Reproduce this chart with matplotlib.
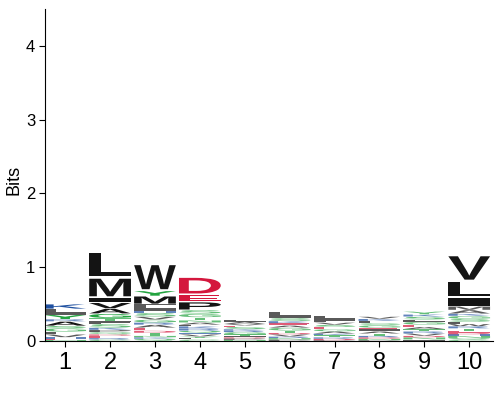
import matplotlib
matplotlib.use("Agg")
import matplotlib.pyplot as plt
from matplotlib.textpath import TextPath
from matplotlib.patches import PathPatch
from matplotlib.font_manager import FontProperties
import matplotlib.transforms as mtrans

plt.rcParams['font.family'] = ['Liberation Sans', 'DejaVu Sans']

# letter stacks per position, listed top -> bottom as (letter, bits)
pos1 = [('K', 0.065), ('L', 0.045), ('I', 0.035), ('Y', 0.06), ('R', 0.03), ('A', 0.06),
        ('S', 0.03), ('G', 0.05), ('F', 0.035), ('V', 0.04), ('H', 0.02), ('E', 0.015), ('N', 0.015)]
pos2 = [('L', 0.36), ('M', 0.27), ('I', 0.07), ('V', 0.08), ('A', 0.07), ('G', 0.06), ('T', 0.04),
        ('F', 0.04), ('S', 0.05), ('K', 0.03), ('P', 0.03), ('Q', 0.03), ('D', 0.02), ('E', 0.03),
        ('R', 0.02), ('C', 0.02)]
pos3 = [('W', 0.37), ('Y', 0.07), ('M', 0.11), ('F', 0.05), ('I', 0.04), ('H', 0.03), ('S', 0.05),
        ('V', 0.04), ('G', 0.04), ('R', 0.03), ('A', 0.04), ('E', 0.04), ('D', 0.03), ('T', 0.04),
        ('N', 0.02), ('K', 0.02), ('Q', 0.03)]
pos4 = [('D', 0.24), ('E', 0.10), ('P', 0.11), ('S', 0.05), ('G', 0.05), ('T', 0.04), ('N', 0.03),
        ('A', 0.03), ('L', 0.02), ('K', 0.03), ('R', 0.03), ('Q', 0.03), ('H', 0.02), ('V', 0.03),
        ('Y', 0.02), ('F', 0.02), ('C', 0.02)]
pos5 = [('L', 0.03), ('A', 0.03), ('V', 0.02), ('E', 0.02), ('S', 0.03), ('K', 0.02), ('R', 0.02),
        ('G', 0.03), ('T', 0.02), ('I', 0.02), ('D', 0.015), ('P', 0.02), ('N', 0.015)]
pos6 = [('L', 0.05), ('I', 0.03), ('S', 0.04), ('K', 0.03), ('E', 0.03), ('A', 0.03), ('G', 0.04),
        ('T', 0.03), ('D', 0.02), ('V', 0.03), ('R', 0.02), ('N', 0.02), ('P', 0.02)]
pos7 = [('L', 0.04), ('I', 0.03), ('F', 0.02), ('V', 0.03), ('S', 0.03), ('E', 0.03), ('G', 0.03),
        ('A', 0.03), ('K', 0.02), ('T', 0.03), ('R', 0.02), ('D', 0.02), ('P', 0.01)]
pos8 = [('V', 0.03), ('K', 0.03), ('L', 0.03), ('S', 0.03), ('G', 0.03), ('E', 0.02), ('I', 0.03),
        ('A', 0.03), ('T', 0.03), ('R', 0.02), ('D', 0.02), ('N', 0.02), ('P', 0.01)]
pos9 = [('Y', 0.04), ('K', 0.03), ('S', 0.04), ('L', 0.03), ('G', 0.04), ('E', 0.03), ('A', 0.03),
        ('T', 0.03), ('R', 0.03), ('V', 0.03), ('D', 0.02), ('N', 0.03), ('I', 0.02)]
pos10 = [('V', 0.36), ('L', 0.22), ('I', 0.12), ('M', 0.05), ('A', 0.05), ('K', 0.03), ('G', 0.04),
         ('S', 0.04), ('F', 0.03), ('W', 0.03), ('R', 0.03), ('T', 0.03), ('E', 0.03), ('D', 0.02),
         ('H', 0.02), ('N', 0.03), ('Q', 0.02), ('C', 0.02)]

columns = [pos1, pos2, pos3, pos4, pos5, pos6, pos7, pos8, pos9, pos10]
positions = list(range(1, 11))

colors = {}
for c in 'AVLIPWFM':
    colors[c] = '#141414'
for c in 'GSTYCNQ':
    colors[c] = '#22a33f'
for c in 'KRH':
    colors[c] = '#1f50a0'
for c in 'DE':
    colors[c] = '#d4173d'

fp = FontProperties(family='Liberation Sans', weight='bold')


def draw_letter(ax, ch, x, y, w, h, color, alpha=1.0):
    tp = TextPath((0, 0), ch, size=1, prop=fp)
    bb = tp.get_extents()
    t = mtrans.Affine2D().translate(-bb.x0, -bb.y0).scale(w / bb.width, h / bb.height).translate(x - w / 2, y)
    ax.add_patch(PathPatch(t.transform_path(tp), fc=color, ec='none', lw=0, alpha=alpha))


fig = plt.figure(figsize=(5, 4), dpi=100)
ax = fig.add_axes([0.09, 0.1475, 0.896, 0.83])

for x, col in zip(positions, columns):
    y = 0
    for ch, h in reversed(col):
        # small gap between stacked letters, small letters come out faded
        a = 1.0 if h >= 0.06 else 0.7
        draw_letter(ax, ch, x, y + h * 0.06, 0.93, h * 0.88, colors[ch], a)
        y += h

ax.set_xlim(0.55, 10.53)
ax.set_ylim(0, 4.5)
ax.set_xticks(positions)
ax.set_xticklabels([str(p) for p in positions], fontsize=17)
ax.set_yticks([0, 1, 2, 3, 4])
ax.tick_params(axis='y', labelsize=12, length=4, pad=3)
ax.tick_params(axis='x', length=4, pad=4)
ax.set_ylabel('Bits', fontsize=13)
ax.yaxis.set_label_coords(-0.05, 0.485)
ax.spines['top'].set_visible(False)
ax.spines['right'].set_visible(False)

fig.savefig('out.png', dpi=100)
